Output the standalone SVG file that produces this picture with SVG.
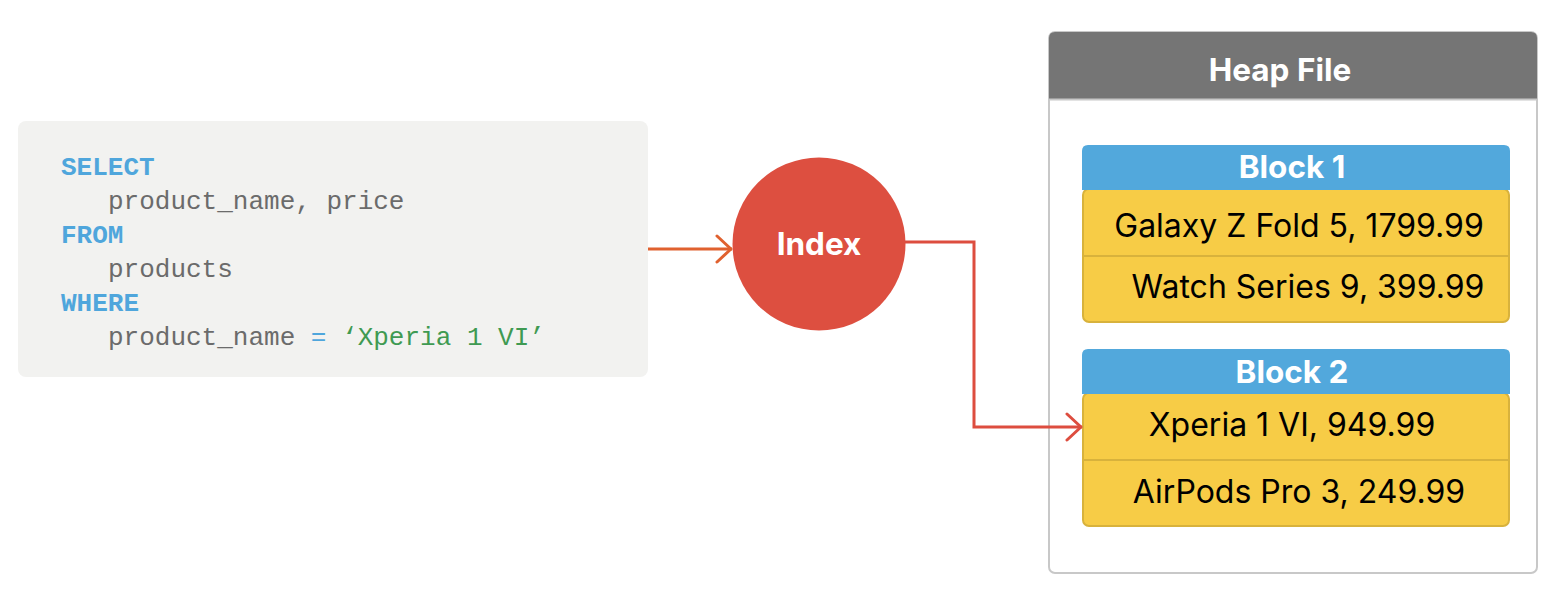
<svg xmlns="http://www.w3.org/2000/svg" width="1568" height="604" viewBox="0 0 1568 604">
<style>
.code{font-family:"Liberation Mono","DejaVu Sans Mono",monospace;font-size:26px;fill:#6b6b6b}
.kw{font-weight:bold;fill:#4fa6dc}
.str{fill:#3f9a52}
.eq{fill:#4fa6dc}
.title{font-family:Inter,"Liberation Sans",sans-serif;font-weight:bold;font-size:31.5px;fill:#ffffff;text-anchor:middle}
.row{font-family:Inter,"Liberation Sans",sans-serif;font-size:32px;fill:#000000;text-anchor:middle}
.hdr{fill:#52a8dc}
.cell{fill:#f7cc46;stroke:#d8b23c;stroke-width:2}
</style>
<defs>
<marker id="chev1" viewBox="0 0 20 30" refX="18" refY="15" markerWidth="20" markerHeight="30" markerUnits="userSpaceOnUse" orient="auto">
<path d="M3,2 L17,15 L3,28" fill="none" stroke="#e0612f" stroke-width="3" stroke-linecap="round" stroke-linejoin="round"/>
</marker>
<marker id="chev2" viewBox="0 0 20 30" refX="18" refY="15" markerWidth="20" markerHeight="30" markerUnits="userSpaceOnUse" orient="auto">
<path d="M3,2 L17,15 L3,28" fill="none" stroke="#dd4d3f" stroke-width="3" stroke-linecap="round" stroke-linejoin="round"/>
</marker>
</defs>
<rect width="1568" height="604" fill="#ffffff"/>

<g id="query">
<rect x="18" y="121" width="630" height="256" rx="8" fill="#f2f2f0"/>
<text class="code"><tspan class="kw" x="61" y="175">SELECT</tspan></text>
<text class="code" x="108" y="209">product_name, price</text>
<text class="code"><tspan class="kw" x="61" y="243">FROM</tspan></text>
<text class="code" x="108" y="277">products</text>
<text class="code"><tspan class="kw" x="61" y="311">WHERE</tspan></text>
<text class="code" x="108" y="345">product_name <tspan class="eq">=</tspan> <tspan class="str">‘Xperia 1 VI’</tspan></text>
</g>

<g id="index">
<circle cx="819" cy="244" r="86.5" fill="#dd4f40"/>
<text class="title" x="819" y="255">Index</text>
</g>

<g id="heap-file">
<rect x="1049" y="32" width="488" height="541" rx="6" fill="#ffffff" stroke="#c8c8c8" stroke-width="2"/>
<path d="M1049,99 L1049,38 Q1049,32 1055,32 L1531,32 Q1537,32 1537,38 L1537,99 Z" fill="#757575"/>
<line x1="1049" y1="99.5" x2="1537" y2="99.5" stroke="#c8c8c8" stroke-width="2"/>
<text class="title" x="1280" y="81">Heap File</text>
</g>

<g id="block1">
<rect class="cell" x="1083" y="189" width="426" height="133" rx="6"/>
<line x1="1083" y1="256" x2="1509" y2="256" stroke="#d8b23c" stroke-width="2"/>
<path class="hdr" d="M1082,190 L1082,151 Q1082,145 1088,145 L1504,145 Q1510,145 1510,151 L1510,190 Z"/>
<text class="title" x="1292" y="178">Block 1</text>
<text class="row" x="1299" y="237">Galaxy Z Fold 5, 1799.99</text>
<text class="row" x="1308" y="298">Watch Series 9, 399.99</text>
</g>

<g id="block2">
<rect class="cell" x="1083" y="393" width="426" height="133" rx="6"/>
<line x1="1083" y1="460" x2="1509" y2="460" stroke="#d8b23c" stroke-width="2"/>
<path class="hdr" d="M1082,394 L1082,355 Q1082,349 1088,349 L1504,349 Q1510,349 1510,355 L1510,394 Z"/>
<text class="title" x="1292" y="383">Block 2</text>
<text class="row" x="1292" y="436">Xperia 1 VI, 949.99</text>
<text class="row" x="1299" y="503">AirPods Pro 3, 249.99</text>
</g>

<g id="connectors">
<path d="M648,249 L732,249" fill="none" stroke="#e0612f" stroke-width="3" marker-end="url(#chev1)"/>
<path d="M905,242 L974,242 L974,427 L1082,427" fill="none" stroke="#dd4d3f" stroke-width="3" marker-end="url(#chev2)"/>
</g>
</svg>
